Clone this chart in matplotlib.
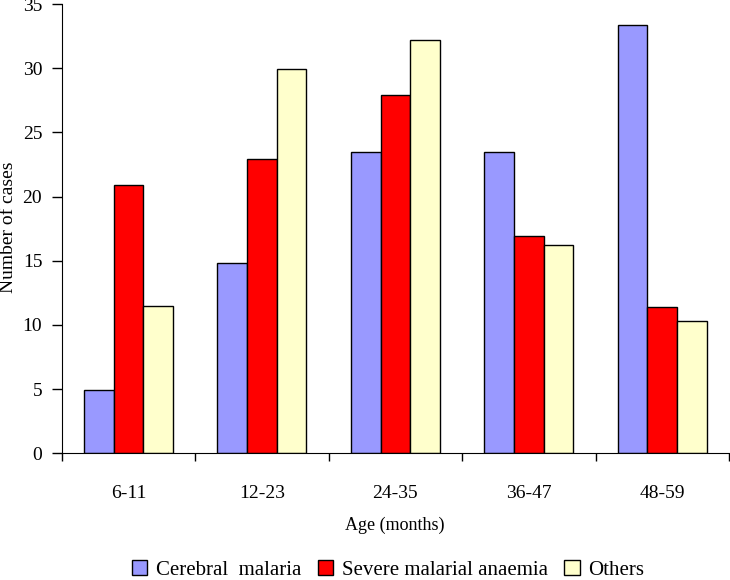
import numpy as np
import matplotlib
matplotlib.use('Agg')
import matplotlib.pyplot as plt

# Data
age_groups = ['6-11', '12-23', '24-35', '36-47', '48-59']
cerebral = [4.9, 14.8, 23.5, 23.5, 33.4]
anaemia = [20.9, 22.9, 27.9, 16.9, 11.4]
others = [11.5, 29.9, 32.2, 16.2, 10.3]

plt.rcParams['font.family'] = ['Liberation Serif', 'DejaVu Serif']

fig = plt.figure(figsize=(7.3, 5.8), dpi=100)
ax = fig.add_axes([0.0845, 0.2184, 0.9141, 0.7747])

x = np.arange(len(age_groups))
w = 0.222
ax.bar(x - w, cerebral, w, color='#9999FF', edgecolor='black', linewidth=1, label='Cerebral  malaria')
ax.bar(x, anaemia, w, color='#FF0000', edgecolor='black', linewidth=1, label='Severe malarial anaemia')
ax.bar(x + w, others, w, color='#FFFFCC', edgecolor='black', linewidth=1, label='Others')

ax.set_xlim(-0.5, len(age_groups) - 0.5)
ax.set_ylim(0, 35)
ax.set_yticks(range(0, 36, 5))

# boundary ticks unlabeled, labels at category centres
ax.set_xticks(np.arange(len(age_groups) + 1) - 0.5)
ax.set_xticklabels([])
ax.set_xticks(x, minor=True)
ax.set_xticklabels(age_groups, minor=True)
ax.tick_params(axis='x', which='major', direction='out', length=6, width=1)
ax.tick_params(axis='x', which='minor', length=0, pad=23, labelsize=14)
ax.tick_params(axis='y', direction='out', length=7, width=1, pad=7, labelsize=14)

for s in ['top', 'right']:
    ax.spines[s].set_visible(False)

fig.text(8.5 / 730, 1 - 227 / 580, 'Number of cases', rotation=90, ha='center', va='center', fontsize=14)
fig.text(395 / 730, 1 - 525 / 580, 'Age (months)', ha='center', va='center', fontsize=13)

fig.legend(loc='center', bbox_to_anchor=(388 / 730, 1 - 570 / 580), ncol=3, frameon=False,
           fontsize=15, handlelength=0.75, handleheight=0.75, handletextpad=0.4,
           columnspacing=0.8, borderpad=0)

fig.savefig('out.png', dpi=100)
